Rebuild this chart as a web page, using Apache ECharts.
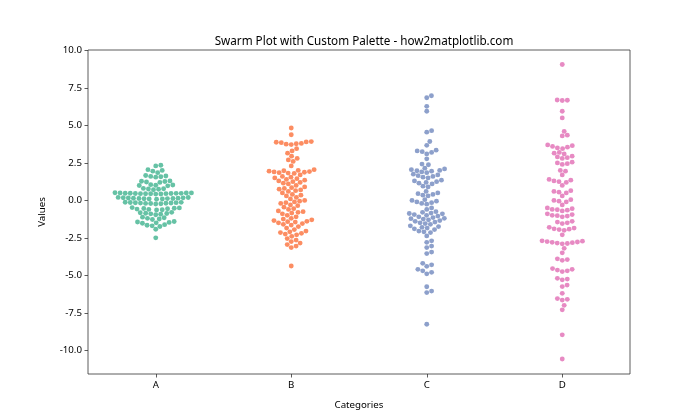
<!DOCTYPE html>
<html><head><meta charset="utf-8">
<script src="https://cdn.jsdelivr.net/npm/echarts@6/dist/echarts.min.js"></script>
<style>html,body{margin:0;padding:0;background:#fff}#c{width:700px;height:420px}</style>
</head><body><div id="c"></div>
<script>
const categories = ['A', 'B', 'C', 'D'];
const valuesA = [-2.5, -1.93, -1.62, -1.66, -1.7, -1.74, -1.41, -1.44, -1.47, -1.5, -1.53,
  -1.12, -1.16, -1.2, -1.24, -1.28,
  -0.8, -0.83, -0.86, -0.88, -0.9, -0.93, -0.96,
  -0.48, -0.5, -0.52, -0.54, -0.56, -0.58, -0.6, -0.62, -0.64,
  -0.12, -0.13, -0.14, -0.15, -0.16, -0.17, -0.18, -0.19, -0.2, -0.21, -0.22, -0.24,
  0.08, 0.09, 0.1, 0.11, 0.12, 0.13, 0.13, 0.14, 0.15, 0.16, 0.17, 0.18, 0.19, 0.2,
  0.42, 0.43, 0.44, 0.44, 0.45, 0.45, 0.46, 0.46, 0.47, 0.47, 0.48, 0.48, 0.49, 0.5, 0.5, 0.51,
  0.71, 0.74, 0.76, 0.78, 0.8,
  0.97, 0.99, 1.01, 1.03, 1.05,
  1.2, 1.23, 1.26, 1.28, 1.3,
  1.55, 1.58, 1.6, 1.63, 1.66,
  1.85, 1.95, 2.0, 2.05,
  2.3, 2.34];
const valuesB = [4.83, 4.38, 3.92, 3.9, 3.88, 3.85, 3.8, 3.78, 3.75, 3.72, 3.45, 3.3, 3.15,
  2.95, 2.8, 2.7, 2.6, 2.3,
  2.05, 2.0, 1.98, 1.95, 1.92, 1.9, 1.88, 1.85, 1.82, 1.8,
  1.7, 1.6, 1.55, 1.5, 1.45, 1.4, 1.35, 1.3, 1.25, 1.2, 1.15,
  1.1, 1.0, 0.9, 0.85, 0.8, 0.75, 0.7, 0.65, 0.6, 0.5,
  0.4, 0.35, 0.3, 0.2, 0.1, 0.0, -0.05, -0.1, -0.15, -0.2, -0.3, -0.35,
  -0.45, -0.55, -0.6, -0.7, -0.75, -0.8, -0.85, -0.9, -1.0, -1.1,
  -1.2, -1.25, -1.3, -1.35, -1.4, -1.42, -1.45, -1.5, -1.55, -1.6, -1.65, -1.75,
  -1.85, -1.95, -2.05, -2.1, -2.15, -2.2, -2.25, -2.3, -2.4,
  -2.55, -2.65, -2.75, -2.85, -2.95, -3.05, -3.15, -4.38];
const valuesC = [6.98, 6.85, 6.27, 5.94, 4.65, 4.55, 3.93, 3.67, 3.35, 3.3, 3.25, 3.2, 3.1, 2.77, 2.42, 2.38,
  2.15, 2.1, 2.05, 2.0, 1.98, 1.95, 1.9, 1.85,
  1.75, 1.7, 1.65, 1.6, 1.55, 1.5,
  1.35, 1.3, 1.25, 1.2, 1.15, 1.1, 0.95, 0.9,
  0.6, 0.5, 0.45, 0.4, 0.35, 0.3,
  0.05, 0.0, -0.05, -0.1, -0.15, -0.2, -0.25, -0.5, -0.6,
  -0.75, -0.8, -0.85, -0.88, -0.9, -0.95, -1.0, -1.05,
  -1.1, -1.15, -1.2, -1.22, -1.25, -1.3,
  -1.35, -1.4, -1.45, -1.5, -1.55, -1.6,
  -1.7, -1.75, -1.8, -1.85, -1.9, -1.95,
  -2.05, -2.1, -2.15, -2.37, -2.7, -2.8, -3.05, -3.15, -3.45, -3.55,
  -4.2, -4.3, -4.4, -4.6, -4.7, -4.8, -4.9, -5.76, -6.05, -6.15, -8.26];
const valuesD = [9.06, 6.7, 6.68, 6.66, 5.94, 5.5, 4.6, 4.35, 4.3,
  3.7, 3.65, 3.6, 3.55, 3.5, 3.45, 3.2, 3.15, 3.1,
  2.95, 2.9, 2.85, 2.8, 2.55, 2.5, 2.45, 2.4, 2.0, 1.95, 1.7,
  1.4, 1.35, 1.3, 1.25, 1.2, 1.0, 0.65, 0.6, 0.55, 0.5, 0.3,
  0.05, 0.0, -0.05, -0.1, -0.3, -0.5, -0.55, -0.6, -0.62, -0.65, -0.7,
  -0.9, -0.95, -1.0, -1.02, -1.05, -1.1, -1.4, -1.45, -1.5, -1.55,
  -1.8, -1.85, -1.9, -1.92, -1.95, -2.0, -2.3,
  -2.7, -2.72, -2.75, -2.78, -2.8, -2.82, -2.85, -2.88, -2.9,
  -3.2, -3.5, -3.9, -3.95, -4.0, -4.55, -4.6, -4.65, -4.7, -4.75,
  -5.2, -5.25, -5.3, -5.65, -5.75, -6.2, -6.55, -6.6, -6.65, -7.0, -7.3, -8.97, -10.58];
const seriesValues = [valuesA, valuesB, valuesC, valuesD];
const palette = ['#66c2a5', '#fc8d62', '#8da0cb', '#e78ac3'];
const yTickValues = [-10, -7.5, -5, -2.5, 0, 2.5, 5, 7.5, 10];
const xTickValues = [0, 1, 2, 3];

const FONT = 'Noto Sans';
const chart = echarts.init(document.getElementById('c'), null, {renderer: 'canvas'});
const tickStyle = {color: '#000', fontFamily: FONT, fontSize: 9.7};
chart.setOption({
  animation: false,
  backgroundColor: '#fff',
  title: {
    text: 'Swarm Plot with Custom Palette - how2matplotlib.com',
    left: 359, top: 31, textAlign: 'center',
    textStyle: {fontFamily: FONT, fontSize: 11.7, fontWeight: 'normal', color: '#000'}
  },
  grid: {left: 88, right: 70, top: 50, bottom: 46, show: true, borderColor: '#333', borderWidth: 0.8, backgroundColor: 'transparent'},
  xAxis: {
    type: 'value', min: -0.5, max: 3.5,
    name: 'Categories', nameLocation: 'middle', nameGap: 26,
    nameTextStyle: {color: '#000', fontFamily: FONT, fontSize: 9.7},
    axisLine: {show: false, onZero: false},
    axisTick: {show: true, length: 3.5, customValues: xTickValues, lineStyle: {color: '#333', width: 0.8}},
    axisLabel: Object.assign({customValues: xTickValues, margin: 6, formatter: v => categories[Math.round(v)] || ''}, tickStyle),
    splitLine: {show: false}
  },
  yAxis: {
    type: 'value', min: -11.58, max: 10.03,
    name: 'Values', nameLocation: 'middle', nameGap: 41, nameRotate: 90,
    nameTextStyle: {color: '#000', fontFamily: FONT, fontSize: 9.7},
    axisLine: {show: false, onZero: false},
    axisTick: {show: true, length: 3.5, customValues: yTickValues, lineStyle: {color: '#333', width: 0.8}},
    axisLabel: Object.assign({customValues: yTickValues, margin: 6, formatter: v => v.toFixed(1)}, tickStyle),
    splitLine: {show: false}
  },
  series: categories.map((c, i) => ({type: 'scatter', name: c, data: [], symbolSize: 4.9, itemStyle: {color: palette[i], opacity: 1}}))
});

// seaborn-style beeswarm layout, computed in pixel space via the chart's own scales
function swarm(values, ci) {
  const r = 2.43;
  const cx = chart.convertToPixel({xAxisIndex: 0}, ci);
  const unit = chart.convertToPixel({xAxisIndex: 0}, 1) - chart.convertToPixel({xAxisIndex: 0}, 0);
  const half = 0.4 * unit;
  const pts = values.map(v => ({v: v, y: chart.convertToPixel({yAxisIndex: 0}, v)}));
  pts.sort((a, b) => a.v - b.v);
  const placed = [];
  for (const p of pts) {
    const neigh = placed.filter(q => Math.abs(p.y - q.y) <= 2 * r);
    const cands = [cx];
    for (const q of neigh) {
      const dy = p.y - q.y;
      const dx = Math.sqrt(Math.max(4 * r * r - dy * dy, 0)) * 1.05;
      cands.push(q.x + dx, q.x - dx);
    }
    const order = cands.map((c, k) => [Math.abs(c - cx), k, c]).sort((a, b) => a[0] - b[0] || a[1] - b[1]);
    let x = cx;
    for (const o of order) {
      const c = o[2];
      if (neigh.every(q => (c - q.x) * (c - q.x) + (p.y - q.y) * (p.y - q.y) >= 4 * r * r - 1e-6)) { x = c; break; }
    }
    placed.push({x: x, y: p.y, v: p.v});
  }
  return placed.map(q => [chart.convertFromPixel({xAxisIndex: 0}, Math.max(cx - half, Math.min(cx + half, q.x))), q.v]);
}
chart.setOption({series: seriesValues.map((vals, i) => ({data: swarm(vals, i)}))});
</script></body></html>
